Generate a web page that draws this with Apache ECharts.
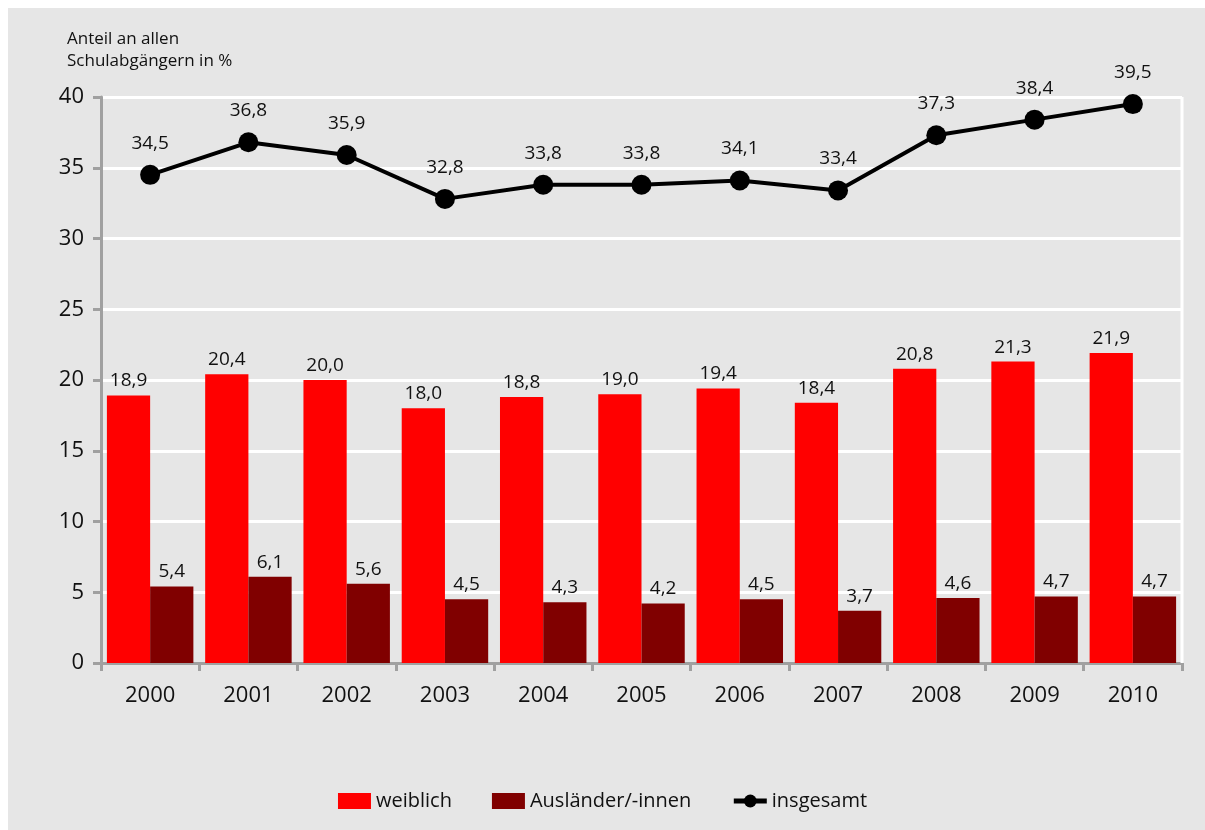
<!DOCTYPE html>
<html>
<head>
<meta charset="utf-8">
<script src="https://cdn.jsdelivr.net/npm/echarts@6/dist/echarts.min.js"></script>
<style>
  html, body { margin: 0; padding: 0; background: #fff; }
  #chart { width: 1205px; height: 830px; }
</style>
</head>
<body>
<div id="chart"></div>
<script>
var years = ['2000', '2001', '2002', '2003', '2004', '2005', '2006', '2007', '2008', '2009', '2010'];
var weiblich = [18.9, 20.4, 20.0, 18.0, 18.8, 19.0, 19.4, 18.4, 20.8, 21.3, 21.9];
var auslaender = [5.4, 6.1, 5.6, 4.5, 4.3, 4.2, 4.5, 3.7, 4.6, 4.7, 4.7];
var insgesamt = [34.5, 36.8, 35.9, 32.8, 33.8, 33.8, 34.1, 33.4, 37.3, 38.4, 39.5];
var yTicks = [0, 5, 10, 15, 20, 25, 30, 35, 40];

var FONT = '"Open Sans", "DejaVu Sans", sans-serif';
var fmt = function (p) { return p.value.toFixed(1).replace('.', ','); };

var chart = echarts.init(document.getElementById('chart'));
var option = {
  backgroundColor: '#ffffff',
  animation: false,
  textStyle: { fontFamily: FONT, color: '#111' },
  graphic: [
    { type: 'rect', z: -10, shape: { x: 8, y: 8, width: 1197, height: 822 }, style: { fill: '#e6e6e6' } },
    // right border of plot area
    { type: 'line', z: 1, shape: { x1: 1182, y1: 97, x2: 1182, y2: 663 }, style: { stroke: '#ffffff', lineWidth: 3 } }
  ],
  legend: {
    top: 786,
    left: 'center',
    itemGap: 40,
    itemWidth: 33,
    itemHeight: 16,
    textStyle: { fontFamily: FONT, fontSize: 20, color: '#111' },
    data: [
      { name: 'weiblich', icon: 'rect' },
      { name: 'Ausländer/-innen', icon: 'rect' },
      { name: 'insgesamt', lineStyle: { width: 5 } }
    ]
  },
  grid: { left: 101, right: 23, top: 97, bottom: 167 },
  xAxis: {
    type: 'category',
    data: years,
    axisLine: { lineStyle: { color: '#a0a0a0', width: 3 } },
    axisTick: { show: true, length: 8, lineStyle: { color: '#a0a0a0', width: 3 } },
    axisLabel: { fontFamily: FONT, fontSize: 22, color: '#111', margin: 22 },
    splitLine: { show: false }
  },
  yAxis: {
    type: 'value',
    min: 0,
    max: 40,
    interval: 5,
    name: 'Anteil an allen\nSchulabgängern in %',
    nameLocation: 'end',
    nameGap: 25,
    nameTextStyle: { fontFamily: FONT, fontSize: 17, color: '#111', align: 'left', lineHeight: 22, padding: [0, 0, 0, -34] },
    axisLine: { show: true, lineStyle: { color: '#a0a0a0', width: 3 } },
    axisTick: { show: true, length: 8, lineStyle: { color: '#a0a0a0', width: 3 } },
    axisLabel: {
      fontFamily: FONT, fontSize: 22, color: '#111', margin: 17,
      formatter: function (v) { return yTicks.indexOf(v) >= 0 ? String(v) : ''; }
    },
    splitLine: { show: true, lineStyle: { color: '#ffffff', width: 3 } }
  },
  series: [
    {
      name: 'weiblich',
      type: 'bar',
      data: weiblich,
      barGap: '0%',
      barCategoryGap: '12%',
      itemStyle: { color: '#ff0000' },
      label: { show: true, position: 'top', distance: 5, fontFamily: FONT, fontSize: 19, color: '#111', formatter: fmt }
    },
    {
      name: 'Ausländer/-innen',
      type: 'bar',
      data: auslaender,
      itemStyle: { color: '#800000' },
      label: { show: true, position: 'top', distance: 5, fontFamily: FONT, fontSize: 19, color: '#111', formatter: fmt }
    },
    {
      name: 'insgesamt',
      type: 'line',
      data: insgesamt,
      symbol: 'circle',
      symbolSize: 20,
      z: 5,
      lineStyle: { color: '#000', width: 4 },
      itemStyle: { color: '#000' },
      label: { show: true, position: 'top', distance: 12, fontFamily: FONT, fontSize: 19, color: '#111', formatter: fmt }
    }
  ]
};
chart.setOption(option);
</script>
</body>
</html>
